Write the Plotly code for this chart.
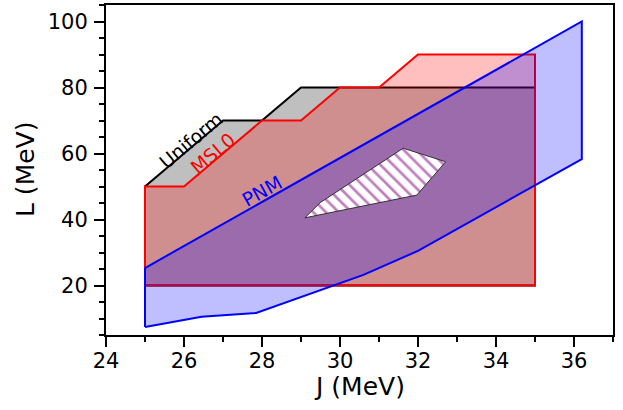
import plotly.graph_objects as go

# ---- data ----
uniform_J = [25, 25, 27, 28, 29, 35, 35]
uniform_L = [20, 50, 70, 70, 80, 80, 20]

msl0_J = [25, 25, 26, 28, 29, 30, 31, 32, 35, 35]
msl0_L = [20, 50, 50, 70, 70, 80, 80, 90, 90, 20]

pnm_J = [25, 26.45, 27.85, 30.6, 32.0, 36.2, 36.2, 25]
pnm_L = [7.4, 10.5, 11.7, 23.2, 30.5, 58.3, 100.0, 25.3]

hatch_J = [29.10, 29.49, 31.62, 32.71, 31.97]
hatch_L = [40.5, 45.1, 61.6, 57.5, 47.4]

labels = ["Uniform", "MSL0", "PNM"]
label_J = [26.18, 26.74, 28.0]
label_L = [64.1, 60.2, 48.6]
label_angle = [-40, -40, -29]
label_color = ["black", "red", "blue"]

x_ticks = [24, 26, 28, 30, 32, 34, 36]
y_ticks = [20, 40, 60, 80, 100]
x_title = "J (MeV)"
y_title = "L (MeV)"


def closed(a):
    return list(a) + [a[0]]


fig = go.Figure()
fig.add_trace(go.Scatter(x=closed(uniform_J), y=closed(uniform_L), mode="lines",
                         fill="toself", fillcolor="rgba(128,128,128,0.5)",
                         line=dict(color="black", width=2), showlegend=False))
fig.add_trace(go.Scatter(x=closed(msl0_J), y=closed(msl0_L), mode="lines",
                         fill="toself", fillcolor="rgba(255,0,0,0.25)",
                         line=dict(color="red", width=2), showlegend=False))
fig.add_trace(go.Scatter(x=closed(pnm_J), y=closed(pnm_L), mode="lines",
                         fill="toself", fillcolor="rgba(0,0,255,0.25)",
                         line=dict(color="blue", width=2), showlegend=False))
fig.add_trace(go.Scatter(x=closed(hatch_J), y=closed(hatch_L), mode="lines",
                         fill="toself", fillcolor="white",
                         fillpattern=dict(shape="\\", fgcolor="purple", bgcolor="white",
                                          size=9, solidity=0.3),
                         line=dict(color="#333333", width=1), showlegend=False))

for t, xj, yl, ang, c in zip(labels, label_J, label_L, label_angle, label_color):
    fig.add_annotation(x=xj, y=yl, text=t, textangle=ang, showarrow=False,
                       font=dict(color=c, size=19, family="DejaVu Sans"),
                       xref="x", yref="y")

# axis titles placed as paper annotations
fig.add_annotation(x=0.5, y=0, xref="paper", yref="paper", text=x_title,
                   showarrow=False, yanchor="middle", yshift=-51,
                   font=dict(size=25, family="DejaVu Sans", color="black"))
fig.add_annotation(x=0, y=0.5, xref="paper", yref="paper", text=y_title,
                   showarrow=False, xanchor="center", xshift=-81, textangle=-90,
                   font=dict(size=25, family="DejaVu Sans", color="black"))

axis_common = dict(showline=True, linecolor="black", linewidth=2, mirror=True,
                   ticks="outside", tickwidth=2, ticklen=10, tickcolor="black",
                   showgrid=False, zeroline=False, automargin=False,
                   tickfont=dict(size=21, family="DejaVu Sans", color="black"))

fig.update_xaxes(range=[24, 37], tickvals=x_ticks, ticklabelstandoff=-4,
                 minor=dict(dtick=1, ticks="outside", ticklen=5, tickwidth=2, tickcolor="black"),
                 **axis_common)
fig.update_yaxes(range=[5, 105], tickvals=y_ticks, ticklabelstandoff=2,
                 minor=dict(dtick=5, ticks="outside", ticklen=5, tickwidth=2, tickcolor="black"),
                 **axis_common)

fig.update_layout(width=623, height=410, margin=dict(l=106, r=10, t=5, b=75),
                  plot_bgcolor="white", paper_bgcolor="white",
                  font=dict(family="DejaVu Sans"))

fig.write_html("out.html", config={"displayModeBar": False},
               post_script="document.body.style.margin='0px';")
